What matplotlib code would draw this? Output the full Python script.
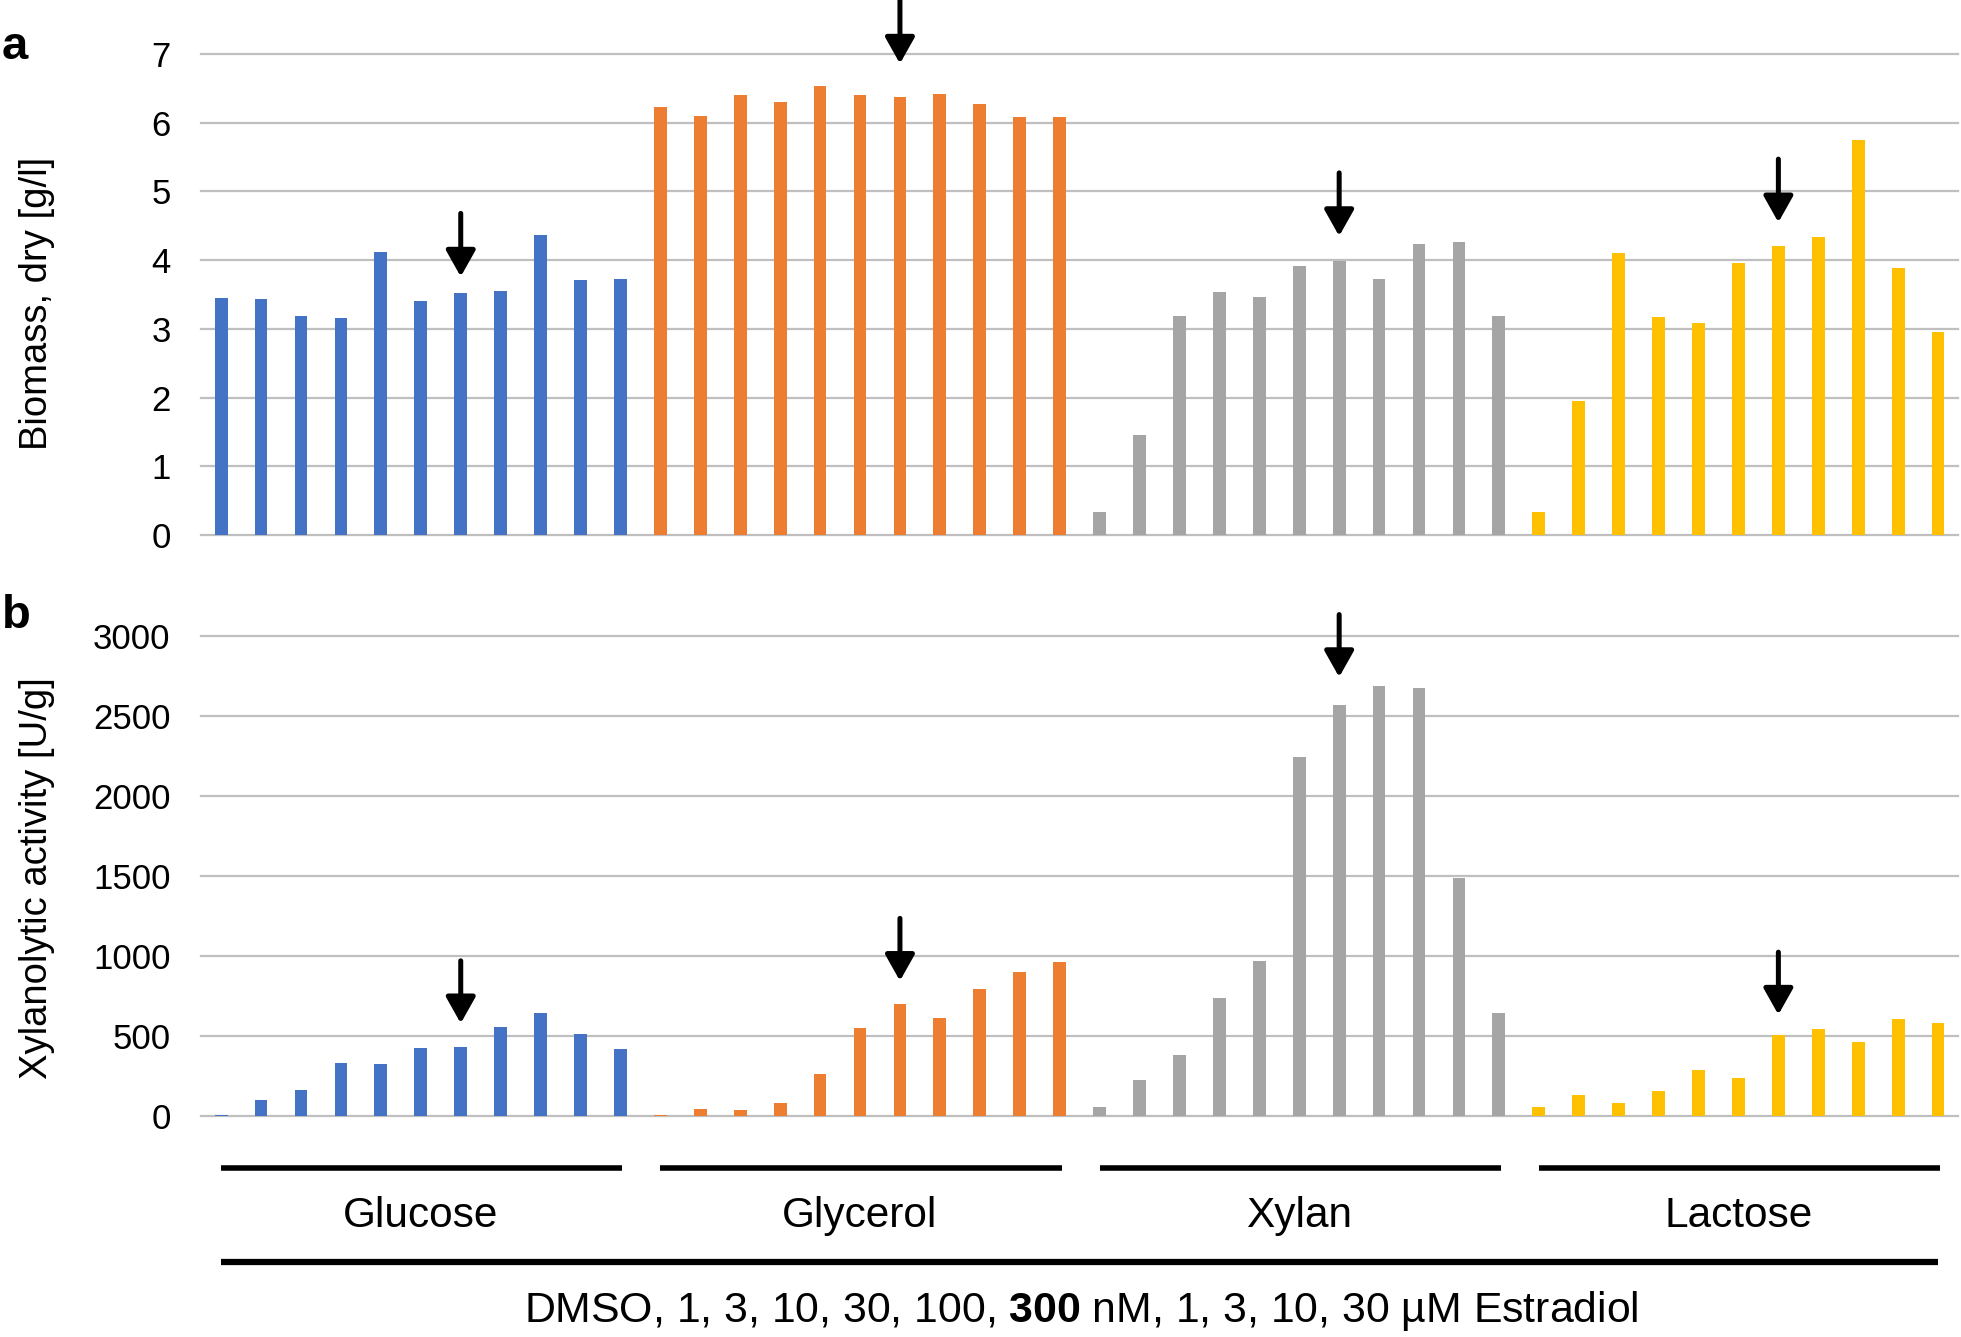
import numpy as np
import matplotlib
matplotlib.use("Agg")
import matplotlib.pyplot as plt
import matplotlib.transforms as mtransforms

plt.rcParams['font.family'] = ['Liberation Sans', 'DejaVu Sans']
plt.rcParams['mathtext.fontset'] = 'custom'
plt.rcParams['mathtext.bf'] = 'Liberation Sans:bold'
plt.rcParams['mathtext.rm'] = 'Liberation Sans'

# carbon sources and colours (Excel default palette)
groups = ['Glucose', 'Glycerol', 'Xylan', 'Lactose']
colors = ['#4472C4', '#ED7D31', '#A5A5A5', '#FFC000']

# a: dry biomass [g/l], 11 concentrations per carbon source
biomass_glucose = [3.45, 3.43, 3.18, 3.16, 4.12, 3.41, 3.52, 3.55, 4.37, 3.71, 3.73]
biomass_glycerol = [6.23, 6.10, 6.41, 6.30, 6.54, 6.41, 6.37, 6.42, 6.27, 6.09, 6.09]
biomass_xylan = [0.33, 1.45, 3.19, 3.54, 3.46, 3.91, 3.98, 3.73, 4.23, 4.27, 3.19]
biomass_lactose = [0.34, 1.95, 4.11, 3.17, 3.08, 3.96, 4.20, 4.33, 5.75, 3.88, 2.95]

# b: xylanolytic activity [U/g]
activity_glucose = [10, 100, 165, 336, 327, 428, 432, 555, 648, 512, 419]
activity_glycerol = [8, 47, 42, 85, 265, 552, 702, 617, 793, 902, 962]
activity_xylan = [60, 225, 381, 737, 971, 2245, 2568, 2684, 2675, 1490, 648]
activity_lactose = [56, 134, 85, 156, 287, 240, 508, 548, 463, 608, 584]

# arrows mark the 300 nM condition (index 6 in each group)
arrow_index = 6
arrow_tips_a = [3.76, 6.86, 4.35, 4.55]
arrow_len_a = 0.92
arrow_tips_b = [581, 846, 2742, 635]
arrow_len_b = 390

biomass = [biomass_glucose, biomass_glycerol, biomass_xylan, biomass_lactose]
activity = [activity_glucose, activity_glycerol, activity_xylan, activity_lactose]
n = len(biomass_glucose)

fig = plt.figure(figsize=(19.61, 13.37), dpi=100)
ax_a = fig.add_axes([0.1026, 0.5999, 0.8959, 0.3597])
ax_b = fig.add_axes([0.1026, 0.165, 0.8959, 0.3595])


def draw_panel(ax, data, ymax, step, tips, alen):
    for g, vals in enumerate(data):
        x = np.arange(n) + g * n
        ax.bar(x, vals, width=0.32, color=colors[g], zorder=2)
        xa = g * n + arrow_index
        ax.annotate('', xy=(xa, tips[g]), xytext=(xa, tips[g] + alen),
                    arrowprops=dict(arrowstyle='-|>,head_length=0.8,head_width=0.45',
                                    color='black', lw=3.6, shrinkA=0, shrinkB=0,
                                    mutation_scale=20),
                    annotation_clip=False, zorder=5)
    ax.set_xlim(-0.5, 4 * n - 0.5)
    ax.set_ylim(0, ymax)
    ax.set_yticks(np.arange(0, ymax + step / 2, step))
    ax.set_xticks([])
    ax.grid(axis='y', color='#BFBFBF', lw=1.6)
    for gl in ax.get_ygridlines():
        gl.set_clip_on(False)
    ax.set_axisbelow(True)
    for s in ax.spines.values():
        s.set_visible(False)
    ax.tick_params(axis='y', length=0, pad=22, labelsize=25)


draw_panel(ax_a, biomass, 7, 1, arrow_tips_a, arrow_len_a)
draw_panel(ax_b, activity, 3000, 500, arrow_tips_b, arrow_len_b)

fig.text(0.019, 0.773, 'Biomass, dry [g/l]', rotation=90, ha='center', va='center', fontsize=27.5)
fig.text(0.019, 0.343, 'Xylanolytic activity [U/g]', rotation=90, ha='center', va='center', fontsize=27.5)
fig.text(0.001, 0.956, 'a', fontsize=34, fontweight='bold', va='baseline')
fig.text(0.001, 0.530, 'b', fontsize=34, fontweight='bold', va='baseline')

# group brackets under panel b
trans = mtransforms.blended_transform_factory(ax_b.transData, fig.transFigure)
for g, name in enumerate(groups):
    x0 = g * n
    x1 = g * n + n - 1
    ax_b.plot([x0, x1 + 0.05], [0.1264, 0.1264], color='black', lw=4, transform=trans,
              clip_on=False, solid_capstyle='butt')
    ax_b.text((x0 + x1) / 2, 0.0905, name, transform=trans, ha='center', va='center', fontsize=30.5)
ax_b.plot([0, 4 * n - 1], [0.0561, 0.0561], color='black', lw=4.5, transform=trans,
          clip_on=False, solid_capstyle='butt')
fig.text(0.5515, 0.0195,
         r'DMSO, 1, 3, 10, 30, 100, $\mathbf{300}$ nM, 1, 3, 10, 30 µM Estradiol',
         ha='center', va='center', fontsize=30.8)

fig.savefig('out.png', dpi=100)
